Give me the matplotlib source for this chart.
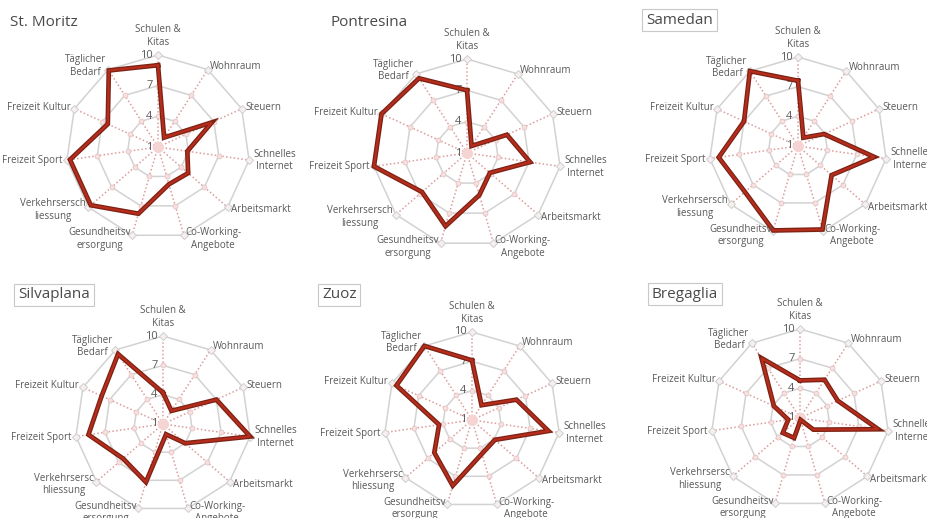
import numpy as np
import matplotlib.pyplot as plt

plt.rcParams['font.family'] = ['Open Sans', 'DejaVu Sans']

# criteria, clockwise from the top
labels_top = ['Schulen &\nKitas', 'Wohnraum', 'Steuern', 'Schnelles\nInternet',
              'Arbeitsmarkt', 'Co-Working-\nAngebote', 'Gesundheitsv\nersorgung',
              'Verkehrsersch\nliessung', 'Freizeit Sport', 'Freizeit Kultur',
              'Täglicher\nBedarf']
labels_bottom = labels_top[:7] + ['Verkehrsersc\nhliessung'] + labels_top[8:]
ticks = [1, 4, 7, 10]

towns = ['St. Moritz', 'Pontresina', 'Samedan', 'Silvaplana', 'Zuoz', 'Bregaglia']
st_moritz = [9.0, 2.1, 6.8, 3.9, 4.9, 4.8, 7.8, 9.7, 9.7, 6.4, 9.9]
pontresina = [7.0, 1.8, 5.2, 7.1, 3.9, 5.2, 8.3, 6.7, 10.0, 10.0, 9.5]
samedan = [7.6, 2.0, 3.9, 8.8, 5.5, 9.8, 9.9, 8.1, 9.1, 7.0, 10.0]
silvaplana = [4.2, 2.6, 7.0, 10.0, 4.0, 2.1, 7.2, 6.4, 8.7, 7.9, 9.5]
zuoz = [7.1, 2.8, 6.0, 8.9, 4.1, 4.6, 8.0, 6.1, 4.4, 9.5, 10.0]
bregaglia = [4.8, 5.6, 5.2, 9.0, 2.8, 1.2, 3.1, 3.3, 2.2, 3.9, 8.2]
values = [st_moritz, pontresina, samedan, silvaplana, zuoz, bregaglia]

# layout in pixels: centre x, centre y, radius / title x, title y
centers = [(158, 147, 92), (467, 153, 94), (798, 146, 89),
           (163, 424, 88), (472, 420, 88), (800, 418, 89)]
title_xy = [(10, 22), (331, 23), (646, 20), (18, 295), (322, 295), (652, 294)]
boxed = [False, False, True, True, True, True]

W, H = 928, 518
fig = plt.figure(figsize=(W / 100, H / 100), dpi=100)

n = len(labels_top)
theta = np.arange(n) * 2 * np.pi / n
closed = np.append(theta, theta[0])
grey = '#595959'

for k, town in enumerate(towns):
    cx, cy, R = centers[k]
    ax = fig.add_axes([(cx - R) / W, (H - cy - R) / H, 2 * R / W, 2 * R / H],
                      projection='polar')
    ax.set_theta_zero_location('N')
    ax.set_theta_direction(-1)
    ax.set_ylim(1, 10)
    ax.grid(False)
    ax.spines['polar'].set_visible(False)
    ax.set_xticks([])
    ax.set_yticks([])
    ax.patch.set_alpha(0)

    # web: rings and dotted spokes
    for t in ticks[1:]:
        ax.plot(closed, [t] * (n + 1), color='#d2d2d2', lw=1.1, zorder=1, clip_on=False)
    for th in theta:
        ax.plot([th, th], [1, 10], color='#dc9c9c', lw=1.1, ls=(0, (1, 1.5)),
                zorder=1, clip_on=False)
    for t in ticks[1:3]:
        ax.plot(theta, [t] * n, 'o', ms=3.5, mfc='#f6e0e0', mec='#e6c4c4',
                mew=0.6, zorder=2, clip_on=False)
    ax.plot(theta, [10] * n, 'D', ms=4, mfc='#f7eeee', mec='#cfcfcf',
            mew=0.7, zorder=2, clip_on=False)
    ax.plot([0], [1], 'o', ms=7, color='#f6d4d4', zorder=2, clip_on=False)

    # scores
    v = values[k]
    vc = v + v[:1]
    ax.plot(closed, vc, color='#7a2214', lw=3.4, zorder=4, clip_on=False,
            solid_joinstyle='miter')
    ax.plot(closed, vc, color='#b82c1c', lw=1.6, zorder=5, clip_on=False,
            solid_joinstyle='miter')

    labels = labels_top if k < 3 else labels_bottom
    for i, (th, lab) in enumerate(zip(theta, labels)):
        a = np.pi / 2 - th
        c, s = np.cos(a), np.sin(a)
        if c > 0.2:
            ha = 'left'
        elif c < -0.2:
            ha = 'right'
        else:
            ha = 'center'
        va = 'bottom' if i == 0 else 'center'
        ax.annotate(lab, xy=(th, 10), xytext=(3 * c, 3 * s + (2 if i == 0 else 0)),
                    textcoords='offset points', ha=ha, va=va, fontsize=7,
                    color=grey, multialignment='center', zorder=6,
                    annotation_clip=False)

    for t in ticks:
        ax.annotate(str(t), xy=(0, t), xytext=(-4, 0), textcoords='offset points',
                    ha='right', va='center', fontsize=8, color=grey,
                    annotation_clip=False)

    tx, ty = title_xy[k]
    box = dict(boxstyle='square,pad=0.25', fc='white', ec='#c8c8c8', lw=0.8) if boxed[k] else None
    fig.text(tx / W, 1 - ty / H, town, fontsize=11, color='#4a4a4a',
             ha='left', va='center', bbox=box)

fig.savefig('out.png', dpi=100, facecolor='white')
